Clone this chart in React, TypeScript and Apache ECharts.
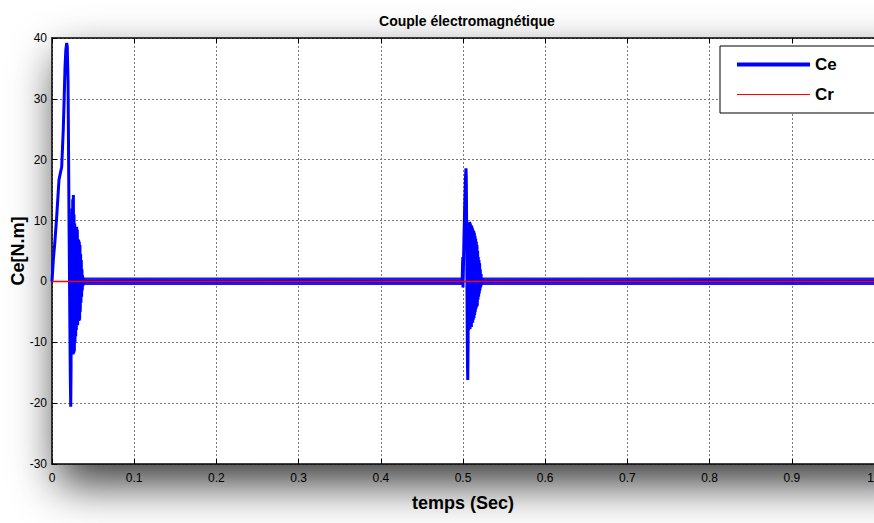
import React, { useEffect, useRef } from "react";
import * as echarts from "echarts";

// Start-up transient of Ce (time s, torque N.m)
const startupTransient: [number, number][] = [
  [0, 0], [0.0016, 3.5], [0.0035, 6.5], [0.0057, 10.6], [0.0075, 14.5], [0.0085, 16.7],
  [0.0105, 18.0], [0.0118, 18.8], [0.0128, 22.0], [0.0137, 24.9], [0.0148, 30.0],
  [0.0158, 35.0], [0.0168, 38.0], [0.0179, 39.2], [0.0186, 38.6], [0.019, 36.0],
  [0.0195, 33.0], [0.0199, 26.0], [0.0203, 18.0], [0.0207, 10.0], [0.0212, 2.0],
  [0.0218, -8.0], [0.0223, -16.0], [0.0228, -20.6], [0.0232, -14.0],
  [0.0236, 6.0], [0.024, -10.0], [0.0244, 12.0], [0.0248, -11.0], [0.0252, 13.5],
  [0.0256, -12.0], [0.026, 14.2], [0.0264, -11.8], [0.0268, 11.0], [0.0272, -11.5],
  [0.0276, 9.5], [0.028, -10.0], [0.0284, 8.5], [0.0288, -9.0], [0.0292, 8.8],
  [0.0296, -8.0], [0.03, 9.0], [0.0304, -7.0], [0.0308, 8.5], [0.0312, -7.2],
  [0.0316, 7.0], [0.032, -6.5], [0.0324, 6.8], [0.0328, -6.5], [0.0332, 6.5],
  [0.0336, -6.3], [0.034, 6.0], [0.0344, -5.0], [0.0348, 4.5], [0.0352, -3.5],
  [0.0356, 3.5], [0.036, -2.5], [0.0364, 2.0], [0.0368, -1.5], [0.0372, 1.0],
  [0.0376, -0.8], [0.038, 0.5], [0.0385, -0.3], [0.04, 0]
];

// Steady-state Ce between the transients
const steadyBeforeLoad: [number, number][] = [
  [0.1, 0.05], [0.2, -0.05], [0.3, 0.05], [0.4, -0.05], [0.499, 0]
];

// Load-step transient of Ce at t = 0.5 s
const loadTransient: [number, number][] = [
  [0.4995, 3.0], [0.4998, 4.0], [0.5, -1.0], [0.5005, 2.0], [0.501, 6.0], [0.502, 12.0],
  [0.503, 17.0], [0.5036, 18.6], [0.504, 17.0], [0.5045, 8.0], [0.505, -5.0],
  [0.5055, -14.0], [0.5058, -16.2], [0.5062, -10.0],
  [0.5066, 5.0], [0.507, -8.0], [0.5074, 9.5], [0.5078, -7.5], [0.5082, 9.8],
  [0.5086, -7.8], [0.509, 9.5], [0.5094, -7.0], [0.5098, 9.2], [0.5102, -7.5],
  [0.5106, 9.2], [0.511, -6.8], [0.5114, 8.8], [0.5118, -6.8], [0.5122, 8.5],
  [0.5126, -6.3], [0.513, 8.3], [0.5134, -6.0], [0.5138, 8.0], [0.5142, -5.5],
  [0.5146, 7.5], [0.515, -5.0], [0.5154, 7.0], [0.5158, -4.5], [0.5162, 6.5],
  [0.5166, -4.2], [0.517, 6.0], [0.5174, -4.0], [0.5178, 5.0], [0.5182, -3.0],
  [0.5186, 4.0], [0.519, -2.5], [0.5194, 3.5], [0.5198, -2.0], [0.5202, 3.0],
  [0.5206, -1.5], [0.521, 2.0], [0.5215, -1.0], [0.522, 1.2], [0.5225, -0.6],
  [0.523, 0.5], [0.524, 0]
];

const steadyAfterLoad: [number, number][] = [
  [0.6, 0.05], [0.7, -0.05], [0.8, 0.05], [0.9, -0.05], [1.0, 0]
];

// Ripple envelope of Ce in steady state (N.m)
const rippleIntervals: [number, number][] = [[0.038, 0.4995], [0.5235, 1.0]];
const rippleLow = -0.6;
const rippleHigh = 0.65;

// Load torque Cr
const crData: [number, number][] = [[0, 0], [1, 0]];

const xTicks = { min: 0, max: 1, interval: 0.1 };
const yTicks = { min: -30, max: 40, interval: 10 };

const NARROW = "'Liberation Sans Narrow', 'Arial Narrow', 'Liberation Sans', Arial, sans-serif";
const SANS = "'Liberation Sans', Arial, sans-serif";

export default function App() {
  const ref = useRef<HTMLDivElement>(null);

  useEffect(() => {
    document.body.style.margin = "0";
    if (!ref.current) return;
    const chart = echarts.init(ref.current, undefined, { renderer: "svg" });
    const ceData = [...startupTransient, ...steadyBeforeLoad, ...loadTransient, ...steadyAfterLoad];
    const gridLeft = 52, gridTop = 38, gridW = 822, gridH = 426;

    chart.setOption({
      animation: false,
      backgroundColor: "#ffffff",
      title: {
        text: "Couple électromagnétique",
        left: 462,
        textAlign: "center",
        top: 9,
        textStyle: { fontFamily: NARROW, fontSize: 14, fontWeight: "bold", color: "#000" }
      },
      graphic: [
        {
          type: "rect",
          z: -10,
          silent: true,
          shape: { x: gridLeft, y: gridTop, width: gridW + 40, height: gridH },
          style: {
            fill: "#ffffff",
            shadowBlur: 45,
            shadowColor: "rgba(0,0,0,0.78)",
            shadowOffsetX: 6,
            shadowOffsetY: 20
          }
        }
      ],
      legend: {
        left: 720,
        top: 46,
        orient: "vertical",
        itemWidth: 73,
        itemHeight: 14,
        itemGap: 13,
        padding: [10, 42, 10, 15],
        borderColor: "#000",
        borderWidth: 1,
        borderRadius: 0,
        backgroundColor: "#ffffff",
        textStyle: { fontFamily: NARROW, fontSize: 17, fontWeight: "bold", color: "#000" },
        data: [
          { name: "Ce", lineStyle: { width: 4, color: "#0000ff" }, itemStyle: { opacity: 0 } },
          { name: "Cr", lineStyle: { width: 1, color: "#ff0000" }, itemStyle: { opacity: 0 } }
        ]
      },
      grid: {
        left: gridLeft,
        top: gridTop,
        width: gridW,
        height: gridH,
        containLabel: false,
        outerBoundsMode: "none"
      },
      xAxis: [
        {
          type: "value",
          min: xTicks.min,
          max: xTicks.max,
          interval: xTicks.interval,
          position: "bottom",
          name: "temps (Sec)",
          nameLocation: "middle",
          nameGap: 30,
          nameMoveOverlap: false,
          nameTextStyle: { fontFamily: SANS, fontSize: 18, fontWeight: "bold", color: "#000" },
          axisLine: { show: true, onZero: false, lineStyle: { color: "#000", width: 1.5 } },
          axisTick: { show: true, inside: true, length: 5, lineStyle: { color: "#000" } },
          axisLabel: { fontFamily: NARROW, fontSize: 12, color: "#000", margin: 8, alignMaxLabel: "right" },
          splitLine: { show: true, lineStyle: { color: "#7a7a7a", type: [2, 2], width: 1 } }
        },
        {
          type: "value",
          min: xTicks.min,
          max: xTicks.max,
          interval: xTicks.interval,
          position: "top",
          axisLine: { show: true, onZero: false, lineStyle: { color: "#000", width: 1.5 } },
          axisTick: { show: true, inside: true, length: 5, lineStyle: { color: "#000" } },
          axisLabel: { show: false },
          splitLine: { show: false }
        }
      ],
      yAxis: {
        type: "value",
        min: yTicks.min,
        max: yTicks.max,
        interval: yTicks.interval,
        name: "Ce[N.m]",
        nameLocation: "middle",
        nameGap: 25,
        nameMoveOverlap: false,
        nameRotate: 90,
        nameTextStyle: { fontFamily: SANS, fontSize: 18, fontWeight: "bold", color: "#000" },
        axisLine: { show: true, onZero: false, lineStyle: { color: "#000", width: 1.5 } },
        axisTick: { show: true, inside: true, length: 5, lineStyle: { color: "#000" } },
        axisLabel: { fontFamily: NARROW, fontSize: 12, color: "#000", margin: 5 },
        splitLine: { show: true, lineStyle: { color: "#7a7a7a", type: [2, 2], width: 1 } }
      },
      series: [
        {
          name: "Ce",
          type: "line",
          data: ceData,
          showSymbol: false,
          symbol: "none",
          lineStyle: { color: "#0000ff", width: 3 },
          itemStyle: { color: "#0000ff" },
          z: 3,
          markArea: {
            silent: true,
            itemStyle: { color: "#0000ff", opacity: 0.9 },
            data: rippleIntervals.map(([a, b]) => [
              { xAxis: a, yAxis: rippleLow },
              { xAxis: b, yAxis: rippleHigh }
            ])
          }
        },
        {
          name: "Cr",
          type: "line",
          data: crData,
          showSymbol: false,
          symbol: "none",
          lineStyle: { color: "#ff0000", width: 1.5 },
          itemStyle: { color: "#ff0000" },
          z: 4
        }
      ]
    });
    return () => chart.dispose();
  }, []);

  return (
    <div
      ref={ref}
      style={{ position: "fixed", left: 0, top: 0, width: 874, height: 523 }}
    />
  );
}
